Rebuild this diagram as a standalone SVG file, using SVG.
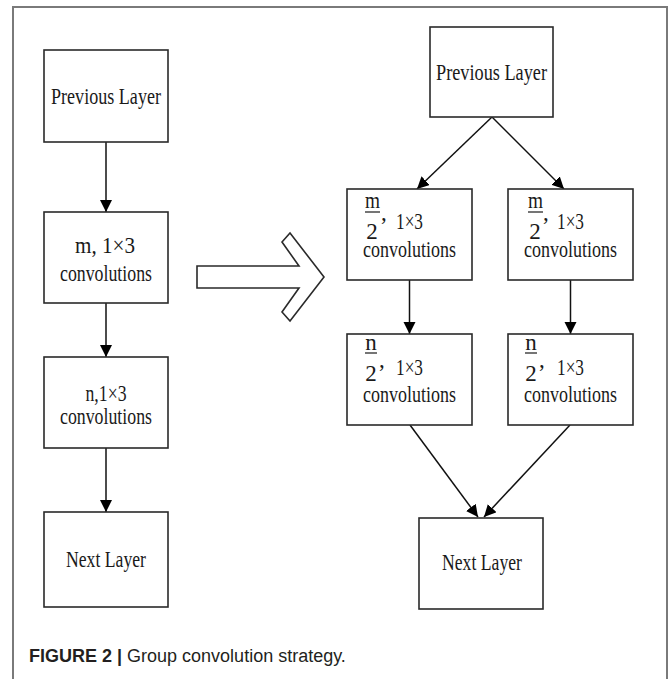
<svg xmlns="http://www.w3.org/2000/svg" width="669" height="679" viewBox="0 0 669 679">
<style>
.box{fill:#fff;stroke:#2a2a2a;stroke-width:1.6}
.t{font-family:"Liberation Serif","Times New Roman",Times,serif;font-size:23px;fill:#1a1a1a}
.c{text-anchor:middle}
.ln{stroke:#111;stroke-width:1.5;fill:none}
.bar{stroke:#1a1a1a;stroke-width:1.2}
.cap{font-family:"Liberation Sans",Arial,sans-serif;font-size:18px;fill:#231f20}
</style>
<defs>
<marker id="ah" markerUnits="userSpaceOnUse" markerWidth="12" markerHeight="16" viewBox="0 0 12 16" refX="12" refY="6" orient="auto">
<path d="M0,0 L12,6 L0,12 Z" fill="#000"/>
</marker>
</defs>
<rect width="669" height="679" fill="#fff"/>
<path d="M13,679 V7 H667 V679" fill="none" stroke="#7a7a7a" stroke-width="2"/>

<g id="connectors">
<line class="ln" x1="106" y1="142" x2="106" y2="212" marker-end="url(#ah)"/>
<line class="ln" x1="106" y1="303" x2="106" y2="357" marker-end="url(#ah)"/>
<line class="ln" x1="106" y1="448" x2="106" y2="512" marker-end="url(#ah)"/>
<line class="ln" x1="492" y1="117" x2="417" y2="189" marker-end="url(#ah)"/>
<line class="ln" x1="492" y1="117" x2="564" y2="189" marker-end="url(#ah)"/>
<line class="ln" x1="409.5" y1="280" x2="409.5" y2="334" marker-end="url(#ah)"/>
<line class="ln" x1="570.5" y1="280" x2="570.5" y2="334" marker-end="url(#ah)"/>
<line class="ln" x1="410" y1="425" x2="478" y2="517" marker-end="url(#ah)"/>
<line class="ln" x1="570" y1="425" x2="484" y2="517" marker-end="url(#ah)"/>
</g>

<g id="big-arrow">
<polygon points="197,266 299,266 282,242 290,233 324,277 290,321 282,312 299,288 197,288" fill="#fff" stroke="#2a2a2a" stroke-width="1.6" stroke-linejoin="miter"/>
</g>

<g id="left-prev">
<rect class="box" x="44" y="50" width="124" height="92"/>
<text class="t c" x="106" y="104" textLength="110" lengthAdjust="spacingAndGlyphs">Previous Layer</text>
</g>
<g id="left-m">
<rect class="box" x="44" y="212" width="124" height="91"/>
<text class="t c" x="105" y="253" textLength="60" lengthAdjust="spacingAndGlyphs">m,  1×3</text>
<text class="t c" x="106" y="281" textLength="92" lengthAdjust="spacingAndGlyphs">convolutions</text>
</g>
<g id="left-n">
<rect class="box" x="44" y="357" width="124" height="91"/>
<text class="t c" x="106" y="401" textLength="41" lengthAdjust="spacingAndGlyphs">n,1×3</text>
<text class="t c" x="106" y="424" textLength="92" lengthAdjust="spacingAndGlyphs">convolutions</text>
</g>
<g id="left-next">
<rect class="box" x="44" y="512" width="124" height="95"/>
<text class="t c" x="106" y="567" textLength="80" lengthAdjust="spacingAndGlyphs">Next Layer</text>
</g>

<g id="right-prev">
<rect class="box" x="430" y="27" width="123" height="90"/>
<text class="t c" x="491.5" y="80" textLength="111" lengthAdjust="spacingAndGlyphs">Previous Layer</text>
</g>
<g id="right-m1">
<rect class="box" x="347" y="189" width="125" height="91"/>
<text class="t c" x="372.5" y="208" textLength="15" lengthAdjust="spacingAndGlyphs">m</text>
<line class="bar" x1="365" y1="212" x2="380" y2="212"/>
<text class="t c" x="372" y="239">2</text>
<text class="t" x="381" y="220">,</text>
<text class="t" x="396" y="229" textLength="27" lengthAdjust="spacingAndGlyphs">1×3</text>
<text class="t c" x="409.5" y="257" textLength="93" lengthAdjust="spacingAndGlyphs">convolutions</text>
</g>
<g id="right-m2">
<rect class="box" x="508" y="189" width="125" height="91"/>
<text class="t c" x="535.5" y="208" textLength="15" lengthAdjust="spacingAndGlyphs">m</text>
<line class="bar" x1="528" y1="212" x2="543" y2="212"/>
<text class="t c" x="535" y="239">2</text>
<text class="t" x="543" y="220">,</text>
<text class="t" x="557" y="229" textLength="27" lengthAdjust="spacingAndGlyphs">1×3</text>
<text class="t c" x="570.5" y="257" textLength="93" lengthAdjust="spacingAndGlyphs">convolutions</text>
</g>
<g id="right-n1">
<rect class="box" x="347" y="334" width="125" height="91"/>
<text class="t c" x="371" y="350">n</text>
<line class="bar" x1="365" y1="353" x2="377" y2="353"/>
<text class="t c" x="371" y="381">2</text>
<text class="t" x="379" y="367">,</text>
<text class="t" x="396" y="375" textLength="27" lengthAdjust="spacingAndGlyphs">1×3</text>
<text class="t c" x="409.5" y="402" textLength="93" lengthAdjust="spacingAndGlyphs">convolutions</text>
</g>
<g id="right-n2">
<rect class="box" x="508" y="334" width="125" height="91"/>
<text class="t c" x="531" y="350">n</text>
<line class="bar" x1="525" y1="353" x2="537" y2="353"/>
<text class="t c" x="531" y="381">2</text>
<text class="t" x="539" y="367">,</text>
<text class="t" x="557" y="375" textLength="27" lengthAdjust="spacingAndGlyphs">1×3</text>
<text class="t c" x="570.5" y="402" textLength="93" lengthAdjust="spacingAndGlyphs">convolutions</text>
</g>
<g id="right-next">
<rect class="box" x="419" y="518" width="124" height="91"/>
<text class="t c" x="482" y="570" textLength="80" lengthAdjust="spacingAndGlyphs">Next Layer</text>
</g>

<g id="caption">
<text class="cap" x="29" y="662"><tspan font-weight="bold">FIGURE 2 |</tspan><tspan> Group convolution strategy.</tspan></text>
</g>
</svg>
